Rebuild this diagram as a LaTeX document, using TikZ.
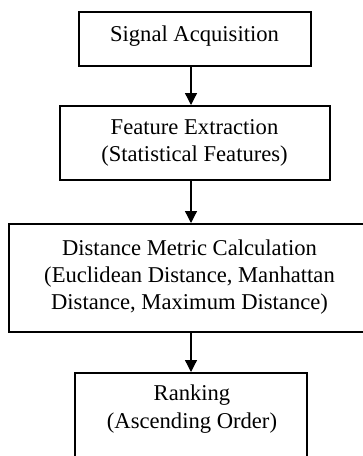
\documentclass[tikz,border=0pt]{standalone}
\usepackage{fontspec}
\setmainfont{Liberation Serif}
\usetikzlibrary{arrows.meta}

\begin{document}
\begin{tikzpicture}[x=0.5pt, y=-0.5pt,
    box/.style={draw, line width=1pt, inner sep=0pt},
    txt/.style={align=center, font=\fontsize{11.3}{13.6}\selectfont},
    flow/.style={-{Triangle[length=6pt, width=6pt]}, line width=0.65pt}]
    \useasboundingbox (0,0) rectangle (363,456);
    \clip (0,0) rectangle (363,456);

    % Signal acquisition
    \node[box, minimum width=116pt, minimum height=27pt] (sig) at (195,39) {};
    \node[txt] (sigtxt) at (194.5,36) {Signal Acquisition};

    % Feature extraction
    \node[box, minimum width=135pt, minimum height=37pt] (feat) at (195,143) {};
    \node[txt] (feattxt) at (194.5,143) {Feature Extraction\\(Statistical Features)};

    % Distance metric (runs past the right edge)
    \node[box, minimum width=181pt, minimum height=54pt] (dist) at (190,278) {};
    \node[txt] (disttxt) at (189.5,277) {Distance Metric Calculation\\(Euclidean Distance, Manhattan\\Distance, Maximum Distance)};

    % Ranking (cut at the bottom)
    \node[box, minimum width=116pt, minimum height=57pt] (rank) at (191,430) {};
    \node[txt] (ranktxt) at (192,409) {Ranking\\(Ascending Order)};

    % Arrows
    \draw[flow] (sig.south -| rank) -- (feat.north -| rank);
    \draw[flow] (feat.south -| rank) -- (dist.north -| rank);
    \draw[flow] (dist.south -| rank) -- (rank.north);
\end{tikzpicture}
\end{document}
